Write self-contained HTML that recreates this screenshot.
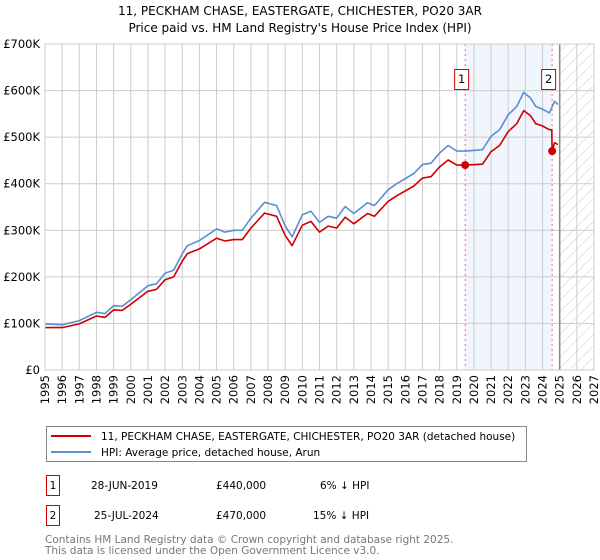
<!DOCTYPE html>
<html><head><meta charset="utf-8"><style>
body{margin:0;background:#fff;font-family:"DejaVu Sans","Liberation Sans",sans-serif;}
#wrap{position:relative;width:600px;height:560px;overflow:hidden;}
</style></head><body>
<div id="wrap">
<svg id="chart" width="600" height="560" xmlns="http://www.w3.org/2000/svg" font-family="DejaVu Sans, Liberation Sans, sans-serif">
<defs><pattern id="hatch" width="8" height="8" patternUnits="userSpaceOnUse" patternTransform="rotate(45)"><line x1="0" y1="0" x2="0" y2="8" stroke="#ccc" stroke-width="1"/></pattern></defs>
<text x="300" y="15" text-anchor="middle" font-size="12">11, PECKHAM CHASE, EASTERGATE, CHICHESTER, PO20 3AR</text>
<text x="300" y="32" text-anchor="middle" font-size="12">Price paid vs. HM Land Registry's House Price Index (HPI)</text>
<g id="plot"></g>
<g>
<rect x="46.5" y="426.5" width="480" height="35" fill="#fff" stroke="#888"/>
<line x1="51" y1="436" x2="91" y2="436" stroke="#cc0000" stroke-width="2"/>
<text x="101" y="440" font-size="10.5">11, PECKHAM CHASE, EASTERGATE, CHICHESTER, PO20 3AR (detached house)</text>
<line x1="51" y1="452" x2="91" y2="452" stroke="#5b8fd0" stroke-width="2"/>
<text x="101" y="456" font-size="10.5">HPI: Average price, detached house, Arun</text>
</g>
<g font-size="10.5">
<rect x="46.5" y="475.5" width="13" height="20" fill="#fff" stroke="#cc0000"/>
<text x="53" y="489" text-anchor="middle">1</text>
<text x="91" y="489">28-JUN-2019</text>
<text x="216" y="489">£440,000</text>
<text x="320" y="489">6% ↓ HPI</text>
<rect x="46.5" y="505.5" width="13" height="20" fill="#fff" stroke="#cc0000"/>
<text x="53" y="519" text-anchor="middle">2</text>
<text x="94" y="519">25-JUL-2024</text>
<text x="216" y="519">£470,000</text>
<text x="313" y="519">15% ↓ HPI</text>
</g>
<text x="45" y="543" font-size="10.5" fill="#777">Contains HM Land Registry data © Crown copyright and database right 2025.</text>
<text x="45" y="554" font-size="10.5" fill="#777">This data is licensed under the Open Government Licence v3.0.</text>
</svg>
</div>
<script>
const hpiYears=[1995,1996,1997,1998,1998.5,1999,1999.5,2000,2001,2001.5,2002,2002.5,2003,2003.3,2004,2005,2005.5,2006,2006.5,2007,2007.8,2008.5,2009,2009.4,2010,2010.5,2011,2011.5,2012,2012.5,2013,2013.8,2014.2,2015,2015.5,2016.5,2017,2017.5,2018,2018.5,2019,2019.5,2020.5,2021,2021.5,2022,2022.5,2022.9,2023.3,2023.6,2024,2024.4,2024.7,2024.9];
const hpiValues=[99,97,106,124,121,138,137,151,181,185,208,214,250,267,278,303,296,300,300,326,360,353,309,286,333,341,317,330,326,351,336,359,353,387,400,422,441,444,466,482,470,470,473,502,516,548,566,596,584,566,560,552,577,570];
const priceYears=[1995,1996,1997,1998,1998.5,1999,1999.5,2000,2001,2001.5,2002,2002.5,2003,2003.3,2004,2005,2005.5,2006,2006.5,2007,2007.8,2008.5,2009,2009.4,2010,2010.5,2011,2011.5,2012,2012.5,2013,2013.8,2014.2,2015,2015.5,2016.5,2017,2017.5,2018,2018.5,2019,2019.49,2020.5,2021,2021.5,2022,2022.5,2022.9,2023.3,2023.6,2024,2024.4,2024.54,2024.56,2024.7,2024.9];
const priceValues=[91,91,99,116,113,129,128,141,169,173,194,200,234,250,260,283,277,280,280,305,337,330,289,267,311,319,296,309,305,328,314,336,330,362,374,395,412,415,436,451,440,440,442,469,482,512,529,557,546,529,524,516,516,470,488,484];
const saleYears=[2019.49,2024.56];
const saleValues=[440,470];
const saleLabels=["1","2"];
const yTicks=[0,100,200,300,400,500,600,700];
const yTickLabels=["£0","£100K","£200K","£300K","£400K","£500K","£600K","£700K"];
const xTicks=[1995,1996,1997,1998,1999,2000,2001,2002,2003,2004,2005,2006,2007,2008,2009,2010,2011,2012,2013,2014,2015,2016,2017,2018,2019,2020,2021,2022,2023,2024,2025,2026,2027];
const forecastStart=2025.0;

const X0=45,X1=594,Y0=370,Y1=44;
const xs=y=>X0+(y-1995)/(2027-1995)*(X1-X0);
const ys=v=>Y0-v/700*(Y0-Y1);
const NS="http://www.w3.org/2000/svg";
const g=document.getElementById('plot');
function mk(t,a){const e=document.createElementNS(NS,t);for(const k in a)e.setAttribute(k,a[k]);g.appendChild(e);return e;}

let r=mk('rect',{x:xs(saleYears[0]),y:Y1,width:xs(saleYears[1])-xs(saleYears[0]),height:Y0-Y1,fill:'#eef3fc',opacity:0.8});


r=mk('rect',{x:xs(forecastStart),y:Y1,width:X1-xs(forecastStart),height:Y0-Y1,fill:'url(#hatch)'});



xTicks.forEach(t=>{
  const l=mk('line',{x1:xs(t),x2:xs(t),y1:Y1,y2:Y0,stroke:'#ccc'});
  
  
  const tx=mk('text',{x:0,y:0,'text-anchor':'end','font-size':'11.5',transform:'translate('+(xs(t)+4)+','+(Y0+5)+') rotate(-90)'});
  tx.textContent=t;
  
  
});
yTicks.forEach((t,i)=>{
  const l=mk('line',{x1:X0,x2:X1,y1:ys(t),y2:ys(t),stroke:'#ccc'});
  
  
  const tx=mk('text',{x:X0-5,y:ys(t)+4,'text-anchor':'end','font-size':'11.5'});
  tx.textContent=yTickLabels[i];
  
  
});
let fl=mk('line',{x1:xs(forecastStart),x2:xs(forecastStart),y1:Y1,y2:Y0,stroke:'#888','stroke-width':1.5});



saleYears.forEach((s,i)=>{
  const l=mk('line',{x1:xs(s),x2:xs(s),y1:Y1,y2:Y0,stroke:'#f07070','stroke-dasharray':'2,3'});
  
  
});

function path(xa,va,col,name){
  const d=xa.map((x,i)=>(i?'L':'M')+xs(x).toFixed(1)+','+ys(va[i]).toFixed(1)).join('');
  const p=mk('path',{d:d,fill:'none',stroke:col,'stroke-width':1.6,'stroke-linejoin':'round'});
  
  
}
path(hpiYears,hpiValues,'#5b8fd0','hpi-line');
path(priceYears,priceValues,'#cc0000','property-price-line');

saleYears.forEach((s,i)=>{
  const c=mk('circle',{cx:xs(s),cy:ys(saleValues[i]),r:4,fill:'#cc0000'});
  
  
  const b=mk('rect',{x:xs(s)-10.5,y:69.5,width:14,height:20,fill:'#fff',stroke:'#cc0000'});
  
  
  const t=mk('text',{x:xs(s)-3.5,y:83,'text-anchor':'middle','font-size':'11.5'});
  t.textContent=saleLabels[i];
  
  
});
let bd=mk('rect',{x:X0,y:Y1,width:X1-X0,height:Y0-Y1,fill:'none',stroke:'#ccc'});


</script>
</body></html>
